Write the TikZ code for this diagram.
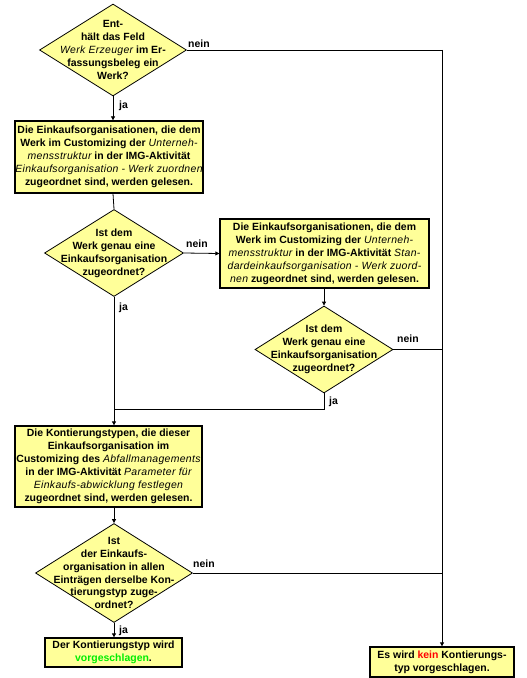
\documentclass[tikz,border=0pt]{standalone}
\usepackage{fontspec}
\setmainfont{Liberation Sans}
\usetikzlibrary{shapes.geometric,arrows.meta}
\definecolor{boxfill}{HTML}{FFFF99}
\definecolor{dec}{HTML}{FFFF99}
\definecolor{okgreen}{HTML}{00EE00}
\definecolor{nored}{HTML}{FF0000}
\tikzset{
  every node/.style={font=\fontsize{10.5}{13}\selectfont\bfseries},
  procbox/.style={draw=black, line width=1.3bp, fill=boxfill, rectangle, inner sep=0pt, align=center},
  decision/.style={draw=black, line width=0.8bp, fill=dec, diamond, inner sep=0pt},
  dectext/.style={align=center, inner sep=0pt},
  flow/.style={line width=0.8bp, -{Triangle[length=4bp,width=4bp]}},
  plain/.style={line width=0.8bp},
  lbl/.style={inner sep=0pt, font=\fontsize{10.5}{12}\selectfont\bfseries}
}
\newcommand{\itx}[1]{{\mdseries\itshape\addfontfeatures{LetterSpace=3}#1}}
\begin{document}
\begin{tikzpicture}[x=1bp,y=-1bp]
\useasboundingbox (0,0) rectangle (527,678);

% decision 1
\node[decision, minimum width=147bp, minimum height=92bp] (d1) at (113,50) {};
\node[dectext] (d1t) at (113,50) {Ent-\\hält das Feld\\\itx{Werk Erzeuger} im Er-\\fassungsbeleg ein\\Werk?};

% box 1
\node[procbox, minimum width=188bp, minimum height=72bp] (b1) at (109,157) {Die Einkaufsorganisationen, die dem\\Werk im Customizing der \itx{Unterneh-}\\\itx{mensstruktur} in der IMG-Aktivität\\\itx{Einkaufsorganisation - Werk zuordnen}\\zugeordnet sind, werden gelesen.};

% decision 2
\node[decision, minimum width=139bp, minimum height=87bp] (d2) at (114,253) {};
\node[dectext] (d2t) at (114,253) {Ist dem\\Werk genau eine\\Einkaufsorganisation\\zugeordnet?};

% box 2
\node[procbox, minimum width=209bp, minimum height=69bp] (b2) at (324.5,253.5) {Die Einkaufsorganisationen, die dem\\Werk im Customizing der \itx{Unterneh-}\\\itx{mensstruktur} in der IMG-Aktivität \itx{Stan-}\\\itx{dardeinkaufsorganisation - Werk zuord-}\\\itx{nen} zugeordnet sind, werden gelesen.};

% decision 3
\node[decision, minimum width=138bp, minimum height=87bp] (d3) at (324,349.5) {};
\node[dectext] (d3t) at (324,349.5) {Ist dem\\Werk genau eine\\Einkaufsorganisation\\zugeordnet?};

% box 3
\node[procbox, minimum width=187bp, minimum height=81bp] (b3) at (108.5,466.5) {Die Kontierungstypen, die dieser\\Einkaufsorganisation im\\Customizing des \itx{Abfallmanagements}\\in der IMG-Aktivität \itx{Parameter für}\\\itx{Einkaufs-abwicklung festlegen}\\zugeordnet sind, werden gelesen.};

% decision 4
\node[decision, minimum width=157bp, minimum height=99bp] (d4) at (114,573) {};
\node[dectext] (d4t) at (114,573) {Ist\\der Einkaufs-\\organisation in allen\\Einträgen derselbe Kon-\\tierungstyp zuge-\\ordnet?};

% box 4
\node[procbox, minimum width=137bp, minimum height=29bp] (b4) at (113.5,652.5) {Der Kontierungstyp wird\\\textcolor{okgreen}{vorgeschlagen}.};

% box 5
\node[procbox, minimum width=144bp, minimum height=30bp] (b5) at (442,662) {Es wird \textcolor{nored}{kein} Kontierungs-\\typ vorgeschlagen.};

% junction coordinates
\coordinate (n1) at (442,50);
\coordinate (n3) at (442,349.5);
\coordinate (n4) at (442,573);
\coordinate (j3) at (324,409);
\coordinate (j2) at (114,409);

% connectors
\draw[flow] (d1.south) -- (d1.south |- b1.north);
\draw[plain] (d1.south |- b1.south) -- (d2.north);
\draw[flow] (d2.east) -- (b2.west);
\draw[flow] (b2.south -| d3.north) -- (d3.north);
\draw[flow] (d2.south) -- (d2.south |- b3.north);
\draw[plain] (d3.south) -- (j3) -- (j2);
\draw[flow] (d2.south |- b3.south) -- (d4.north);
\draw[flow] (d4.south) -- (d4.south |- b4.north);
\draw[plain] (d1.east) -- (n1);
\draw[flow] (n1) -- (b5.north);
\draw[plain] (d3.east) -- (n3);
\draw[plain] (d4.east) -- (n4);

% labels
\node[lbl, anchor=west] (l1) at (188,44) {nein};
\node[lbl, anchor=west] (l2) at (119,106) {ja};
\node[lbl, anchor=west] (l3) at (186,244) {nein};
\node[lbl, anchor=west] (l4) at (119,308) {ja};
\node[lbl, anchor=west] (l5) at (397,339) {nein};
\node[lbl, anchor=west] (l6) at (329,402) {ja};
\node[lbl, anchor=west] (l7) at (193,564) {nein};
\node[lbl, anchor=west] (l8) at (119,631) {ja};
\end{tikzpicture}
\end{document}
